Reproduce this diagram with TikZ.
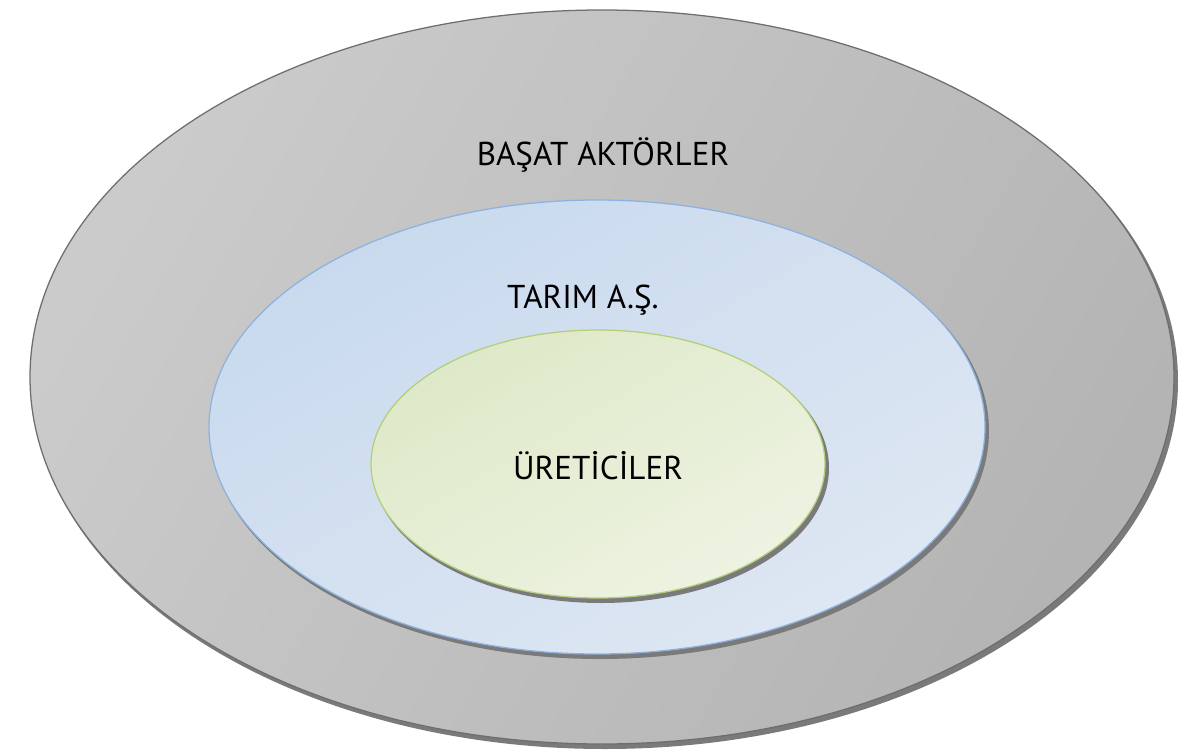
\documentclass[tikz,border=0pt]{standalone}
\usepackage{fontspec}
\setmainfont{PT Sans}
\usetikzlibrary{shapes.geometric}
\definecolor{grayA}{HTML}{CBCBCB}
\definecolor{grayB}{HTML}{B4B4B4}
\definecolor{grayEdge}{HTML}{6E6E6E}
\definecolor{blueA}{HTML}{DEE7F3}
\definecolor{blueB}{HTML}{C9DAEE}
\definecolor{blueEdge}{HTML}{8EB2DF}
\definecolor{greenA}{HTML}{EEF3E2}
\definecolor{greenB}{HTML}{DEE9C8}
\definecolor{greenEdge}{HTML}{B3CF7C}
\definecolor{shade}{HTML}{7A7A7A}
\tikzset{
  ring/.style={ellipse, inner sep=0pt, line width=0.9pt},
  shadowring/.style={ellipse, inner sep=0pt, fill=shade, draw=none},
  label/.style={font=\fontsize{23.5}{28}\selectfont, text=black}
}
\begin{document}
\begin{tikzpicture}[x=0.025cm, y=-0.025cm]
\useasboundingbox (0,0) rectangle (1192,756);
% outer
\node[shadowring, minimum width=1146*0.025cm, minimum height=736*0.025cm] (outs) at (605,381) {};
\node[ring, draw=grayEdge, left color=grayA, right color=grayB, shading angle=60,
      minimum width=1144*0.025cm, minimum height=734*0.025cm] (outer) at (602,377) {};
% blue
\node[shadowring, minimum width=778*0.025cm, minimum height=456*0.025cm] (blues) at (600,431) {};
\node[ring, draw=blueEdge, top color=blueB, bottom color=blueA, shading angle=30,
      minimum width=776*0.025cm, minimum height=454*0.025cm] (blue) at (597,427) {};
% green
\node[shadowring, minimum width=456*0.025cm, minimum height=270*0.025cm] (greens) at (601,468) {};
\node[ring, draw=greenEdge, top color=greenB, bottom color=greenA, shading angle=30,
      minimum width=454*0.025cm, minimum height=268*0.025cm] (green) at (598,464) {};
% labels
\node[label] (t1) at (603,155) {BAŞAT AKTÖRLER};
\node[label] (t2) at (583,300) {TARIM A.Ş.};
\node[label] (t3) at (598,466) {ÜRETİCİLER};
\end{tikzpicture}
\end{document}
